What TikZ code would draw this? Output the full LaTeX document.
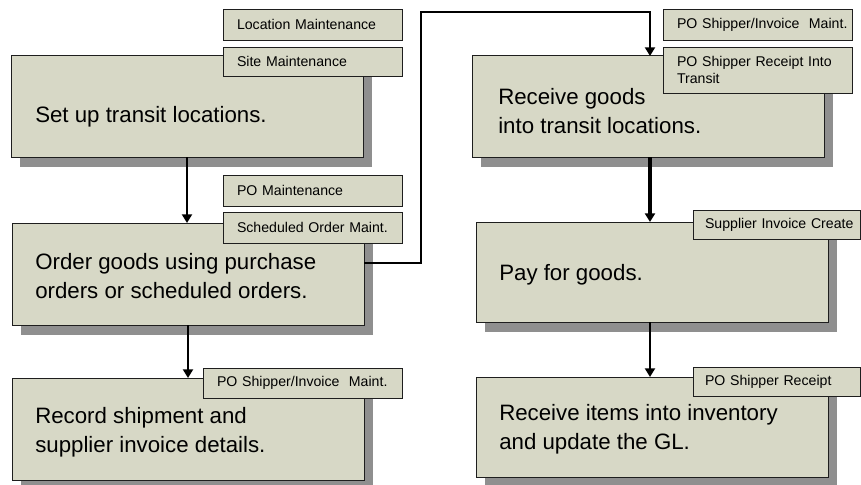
\documentclass[tikz,border=0pt]{standalone}
\usepackage{fontspec}
\setmainfont{Liberation Sans}
\usetikzlibrary{arrows.meta,shadows}
\definecolor{boxc}{HTML}{D7D8C6}
\definecolor{shadc}{HTML}{8F8F8F}
\definecolor{bordc}{HTML}{1E1E1E}
\begin{document}
\begin{tikzpicture}[x=0.75pt,y=-0.75pt,
  stepbox/.style={draw=bordc, fill=boxc, line width=0.75pt, minimum width=264pt,
    inner sep=0pt, outer sep=0pt,
    drop shadow={shadow xshift=7pt, shadow yshift=-7.5pt, fill=shadc, opacity=1}},
  lbl/.style={draw=bordc, fill=boxc, line width=0.6pt, inner xsep=0pt, inner ysep=0pt,
    outer sep=0pt, align=left, font=\fontsize{10.6}{12.75}\selectfont},
  maintxt/.style={anchor=west, inner sep=0pt, align=left,
    font=\fontsize{16.7}{21.4}\selectfont},
  conn/.style={draw=black, line width=1.5pt},
  tip/.style={-{Triangle[width=7.5pt,length=6.5pt]}}
]
\useasboundingbox (0,0) rectangle (861,485);

% main boxes
\node[stepbox, minimum height=75.75pt] (b1) at (187,106.5) {};
\node[stepbox, minimum height=76.5pt]  (b2) at (188,274) {};
\node[stepbox, minimum height=76.5pt]  (b3) at (188,429) {};
\node[stepbox, minimum height=75.75pt] (b4) at (648,106.5) {};
\node[stepbox, minimum height=75pt]    (b5) at (652,272) {};
\node[stepbox, minimum height=75pt]    (b6) at (652,427) {};

% main texts
\node[maintxt] (t1) at (35,117) {Set up transit locations.};
\node[maintxt] (t2) at (35,276) {Order goods using purchase\\orders or scheduled orders.};
\node[maintxt] (t3) at (35,432.5) {Record shipment and\\supplier invoice details.};
\node[maintxt] (t4) at (498,111) {Receive goods\\into transit locations.};
\node[maintxt] (t5) at (499,275) {Pay for goods.};
\node[maintxt] (t6) at (499,429) {Receive items into inventory\\and update the GL.};

% program labels
\node[lbl, text width=134.25pt, minimum height=23.25pt] (l1) at (312.5,24.5) {\hspace*{10.5pt}Location Maintenance};
\node[lbl, text width=134.25pt, minimum height=21.75pt] (l2) at (312.5,61.5) {\hspace*{10.5pt}Site Maintenance};
\node[lbl, text width=134.25pt, minimum height=23.25pt] (l3) at (312.5,190.5) {\hspace*{10.5pt}PO Maintenance};
\node[lbl, text width=134.25pt, minimum height=23.25pt] (l4) at (312.5,227.5) {\hspace*{10.5pt}Scheduled Order Maint.};
\node[lbl, text width=149.25pt, minimum height=22.5pt] (l5) at (302.5,383) {\hspace*{10.5pt}PO Shipper/Invoice\ \ Maint.};
\node[lbl, text width=141.75pt, minimum height=23.25pt] (l6) at (757.5,24.5) {\hspace*{10.5pt}PO Shipper/Invoice\ \ Maint.};
\node[lbl, text width=141.75pt, minimum height=34.5pt] (l7) at (757.5,70) {\hspace*{10.5pt}PO Shipper Receipt Into\\\hspace*{10.5pt}Transit};
\node[lbl, text width=125.25pt, minimum height=21.75pt] (l8) at (776.5,224.5) {\hspace*{9pt}Supplier Invoice Create};
\node[lbl, text width=125.25pt, minimum height=21.75pt] (l9) at (776.5,381.5) {\hspace*{9pt}PO Shipper Receipt};

% connectors
\coordinate (k1) at (421,12);
\draw[conn, tip] (b1.south) -- (b1.south |- b2.north);
\draw[conn, tip] (b2.south) -- (b2.south |- b3.north);
\draw[conn, tip] ([yshift=8.25pt]b2.east) -| (k1) -| ([xshift=1.5pt]b4.north);
\draw[conn, line width=3pt, tip] ([xshift=1.5pt]b4.south) -- ([xshift=1.5pt]b4.south |- b5.north);
\draw[conn, tip] ([xshift=-1.5pt]b5.south) -- ([xshift=-1.5pt]b5.south |- b6.north);
\end{tikzpicture}
\end{document}
